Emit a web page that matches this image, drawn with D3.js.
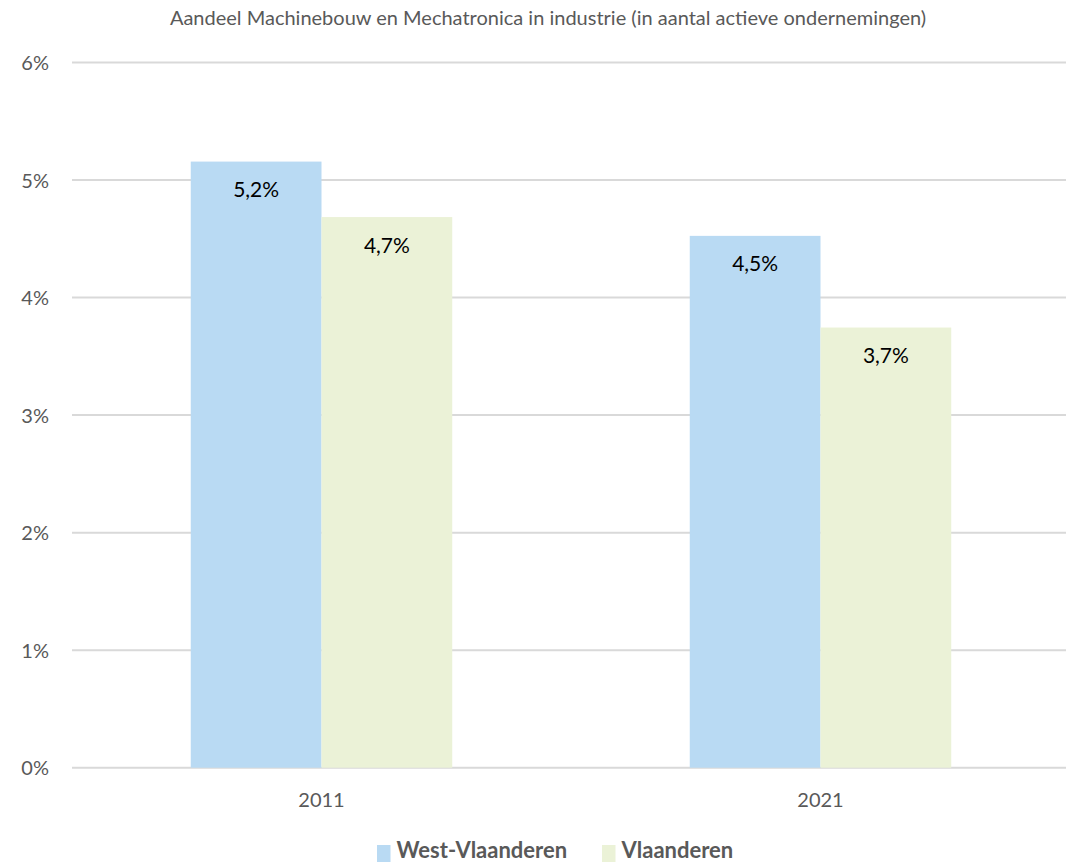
<!DOCTYPE html>
<html lang="nl">
<head>
  <meta charset="UTF-8" />
  <title>Aandeel Machinebouw en Mechatronica in industrie</title>
  <style>
    body { margin: 0; background: #fff; }
    text { font-family: Lato, 'Open Sans', sans-serif; }
    .grid line { stroke: #d9d9d9; stroke-width: 2px; }
    .tick-label { fill: #595959; font-size: 20px; }
    .title { fill: #595959; font-size: 20px; }
    .value { fill: #000; font-size: 21px; }
    .legend text { fill: #595959; font-size: 22px; font-weight: bold; }
  </style>
</head>
<body>
  <svg id="chart" width="1066" height="862"></svg>
  <script src="https://d3js.org/d3.v7.min.js"></script>
  <script>
    const years = ["2011", "2021"];
    const series = ["West-Vlaanderen", "Vlaanderen"];
    const westVlaanderen = [5.157, 4.525];
    const vlaanderen = [4.685, 3.745];
    const valueLabels = [["5,2%", "4,5%"], ["4,7%", "3,7%"]];
    const yTicks = [0, 1, 2, 3, 4, 5, 6];
    const colors = ["#b9daf3", "#ebf2d7"];

    const svg = d3.select("#chart");
    const plotLeft = 72, plotRight = 1070, plotTop = 62.5, plotBottom = 767.7;

    const x = d3.scaleBand().domain(years).range([plotLeft, plotRight])
      .paddingInner(0.476).paddingOuter(0.238);
    const xs = d3.scaleBand().domain(series).range([0, x.bandwidth()]);
    const y = d3.scaleLinear().domain([0, 6]).range([plotBottom, plotTop]);

    svg.append("text").attr("class", "title")
      .attr("x", 548).attr("y", 25).attr("text-anchor", "middle")
      .text("Aandeel Machinebouw en Mechatronica in industrie (in aantal actieve ondernemingen)");

    const grid = svg.append("g").attr("class", "grid");
    grid.selectAll("line").data(yTicks).join("line")
      .attr("x1", plotLeft).attr("x2", 1066)
      .attr("y1", d => y(d)).attr("y2", d => y(d));

    svg.append("g").selectAll("text").data(yTicks).join("text")
      .attr("class", "tick-label")
      .attr("x", 49).attr("y", d => y(d) + 7.5)
      .attr("text-anchor", "end")
      .text(d => d + "%");

    const data = [westVlaanderen, vlaanderen];
    series.forEach((s, si) => {
      const g = svg.append("g");
      g.selectAll("rect").data(years).join("rect")
        .attr("x", d => x(d) + xs(s))
        .attr("y", (d, i) => y(data[si][i]))
        .attr("width", xs.bandwidth())
        .attr("height", (d, i) => plotBottom - y(data[si][i]))
        .attr("fill", colors[si]);
      g.selectAll("text").data(years).join("text")
        .attr("class", "value")
        .attr("x", d => x(d) + xs(s) + xs.bandwidth() / 2)
        .attr("y", (d, i) => y(data[si][i]) + 35.5)
        .attr("text-anchor", "middle")
        .text((d, i) => valueLabels[si][i]);
    });

    svg.append("g").selectAll("text").data(years).join("text")
      .attr("class", "tick-label")
      .attr("x", d => x(d) + x.bandwidth() / 2)
      .attr("y", 807)
      .attr("text-anchor", "middle")
      .text(d => d);

    const legend = svg.append("g").attr("class", "legend");
    const legendX = [377, 602];
    series.forEach((s, i) => {
      legend.append("rect")
        .attr("x", legendX[i]).attr("y", 845)
        .attr("width", 13.5).attr("height", 17)
        .attr("fill", colors[i]);
      legend.append("text")
        .attr("x", legendX[i] + 19.5).attr("y", 858)
        .text(s);
    });
  </script>
</body>
</html>
